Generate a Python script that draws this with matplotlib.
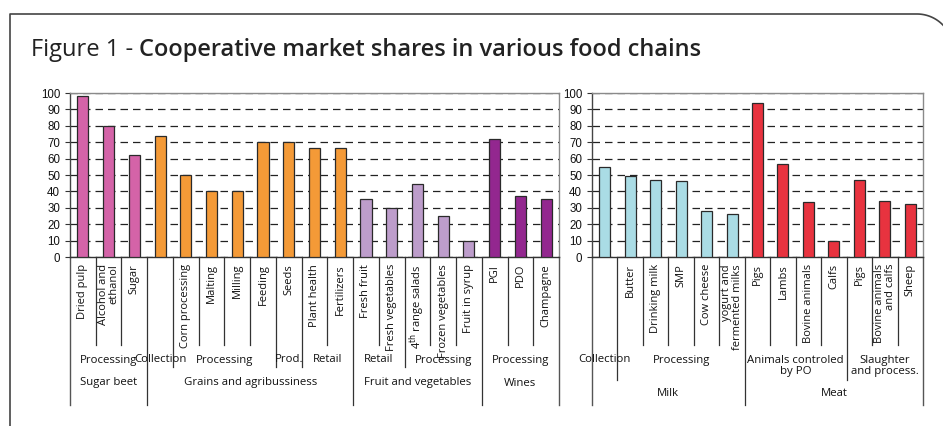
import numpy as np
import matplotlib
matplotlib.use("Agg")
import matplotlib.pyplot as plt
from matplotlib import transforms
from matplotlib.lines import Line2D

# Données du graphique de gauche
left_labels = ["Dried pulp", "Alcohol and\nethanol", "Sugar", "", "Corn processing",
               "Malting", "Milling", "Feeding", "Seeds", "Plant health", "Fertilizers",
               "Fresh fruit", "Fresh vegetables", r"4$^{\rm th}$ range salads",
               "Frozen vegetables", "Fruit in syrup", "PGI", "PDO", "Champagne"]
left_values = [98, 80, 62, 74, 50, 40, 40, 70, 70, 66.5, 66.5,
               35.5, 30, 44.5, 25, 9.5, 72, 37.5, 35.5]
left_group_names = ["Sugar beet", "Grains and agribussiness", "Fruit and vegetables", "Wines"]
left_group_sizes = [3, 8, 5, 3]
left_sub_names = ["Processing", "Collection", "Processing", "Prod.", "Retail",
                  "Retail", "Processing", "Processing"]
left_sub_sizes = [3, 1, 4, 1, 2, 2, 3, 3]
left_colors = ["#d463a8", "#f49a37", "#bd9dcb", "#93278f"]

# Données du graphique de droite
right_labels = ["", "Butter", "Drinking milk", "SMP", "Cow cheese",
                "yogurt and\nfermented milks", "Pigs", "Lambs", "Bovine animals",
                "Calfs", "Pigs", "Bovine animals\nand calfs", "Sheep"]
right_values = [55, 49.5, 47, 46.5, 28, 26, 94, 57, 33.5, 9.5, 47, 34, 32.5]
right_group_names = ["Milk", "Meat"]
right_group_sizes = [6, 7]
right_sub_names = ["Collection", "Processing", "Animals controled\nby PO",
                   "Slaughter\nand process."]
right_sub_sizes = [1, 5, 4, 3]
right_colors = ["#aadce5", "#e8333f"]

W, H = 943, 426
TXT = "Open Sans"
NUM = "Liberation Sans"

fig = plt.figure(figsize=(W / 100, H / 100), dpi=100)
# coordonnées en pixels depuis le coin haut-gauche
pix = transforms.Affine2D().scale(1 / W, -1 / H).translate(0, 1) + fig.transFigure


def make_axes(x0, x1, y0=93, y1=257):
    return fig.add_axes([x0 / W, 1 - y1 / H, (x1 - x0) / W, (y1 - y0) / H])


def draw_panel(ax, labels, values, group_names, group_sizes, sub_names, sub_sizes,
               colors, sub_depth, group_y):
    n = len(values)
    bar_colors = []
    for c, s in zip(colors, group_sizes):
        bar_colors += [c] * s
    x = np.arange(n)
    ax.bar(x, values, width=0.43, color=bar_colors, edgecolor="#2a2a2a",
           linewidth=0.9, zorder=3)
    ax.set_xlim(-0.5, n - 0.5)
    ax.set_ylim(0, 100)
    ax.set_yticks(range(0, 101, 10))
    ax.set_xticks([])
    ax.tick_params(axis="y", length=3.6, width=0.8, pad=3.5, labelsize=8.3,
                   color="#333333", labelcolor="#111111")
    for t in ax.get_yticklabels():
        t.set_fontfamily(NUM)
    ax.yaxis.grid(True, linestyle=(0, (6, 4)), color="#222222", linewidth=0.9)
    ax.set_axisbelow(True)
    ax.spines["top"].set_color("#8a8a8a")
    ax.spines["right"].set_color("#8a8a8a")
    ax.spines["left"].set_color("#444444")
    ax.spines["bottom"].set_color("#333333")
    for sp in ax.spines.values():
        sp.set_linewidth(1.0)

    tr = transforms.blended_transform_factory(ax.transData, pix)

    # séparateurs sous l'axe
    group_edges = set(np.cumsum([0] + group_sizes))
    sub_edges = set(np.cumsum([0] + sub_sizes))
    for i in range(1, n):
        if i in group_edges:
            depth = 405
        elif i in sub_edges:
            depth = sub_depth
        else:
            depth = 345
        ax.add_line(Line2D([i - 0.5, i - 0.5], [257, depth], transform=tr,
                           color="#333333", linewidth=0.9, clip_on=False))
    for edge in (-0.5, n - 0.5):
        ax.add_line(Line2D([edge, edge], [257, 405], transform=tr,
                           color="#555555", linewidth=1.0, clip_on=False))

    # étiquettes des barres
    for i, lab in enumerate(labels):
        if lab:
            ax.text(i, 264, lab, transform=tr, rotation=90, ha="center", va="top",
                    multialignment="right", fontsize=8, family=TXT,
                    linespacing=0.95, color="#111111")

    # sous-groupes
    start = 0
    for name, s in zip(sub_names, sub_sizes):
        y = 366 if "\n" in name else 360
        ax.text(start + s / 2 - 0.5, y, name, transform=tr, ha="center",
                va="center", fontsize=8.2, family=TXT, linespacing=1.0,
                color="#111111")
        start += s
    # groupes
    start = 0
    for name, s in zip(group_names, group_sizes):
        ax.text(start + s / 2 - 0.5, group_y, name, transform=tr, ha="center",
                va="center", fontsize=8.2, family=TXT, color="#111111")
        start += s


ax1 = make_axes(70, 559)
draw_panel(ax1, left_labels, left_values, left_group_names, left_group_sizes,
           left_sub_names, left_sub_sizes, left_colors, 367, 383)
ax2 = make_axes(592, 923)
draw_panel(ax2, right_labels, right_values, right_group_names, right_group_sizes,
           right_sub_names, right_sub_sizes, right_colors, 380, 394)

# cadre avec coin arrondi
r = 36
t = np.linspace(0, np.pi / 2, 40)
fx = np.concatenate([[10, 10, 917], 917 + r * np.sin(t)])
fy = np.concatenate([[426, 14, 14], 14 + r - r * np.cos(t)])
fig.add_artist(Line2D(fx, fy, transform=pix, color="#444444", linewidth=1.2))

# titre
t1 = fig.text(31, 56, "Figure 1 - ", transform=pix, fontsize=17, family=TXT,
              va="baseline", color="#222222")
ax1.annotate("Cooperative market shares in various food chains", xy=(1, 0),
             xycoords=t1, ha="left", va="bottom", fontsize=17, family=TXT,
             fontweight="semibold", color="#222222", annotation_clip=False)

fig.savefig("out.png", dpi=100)
